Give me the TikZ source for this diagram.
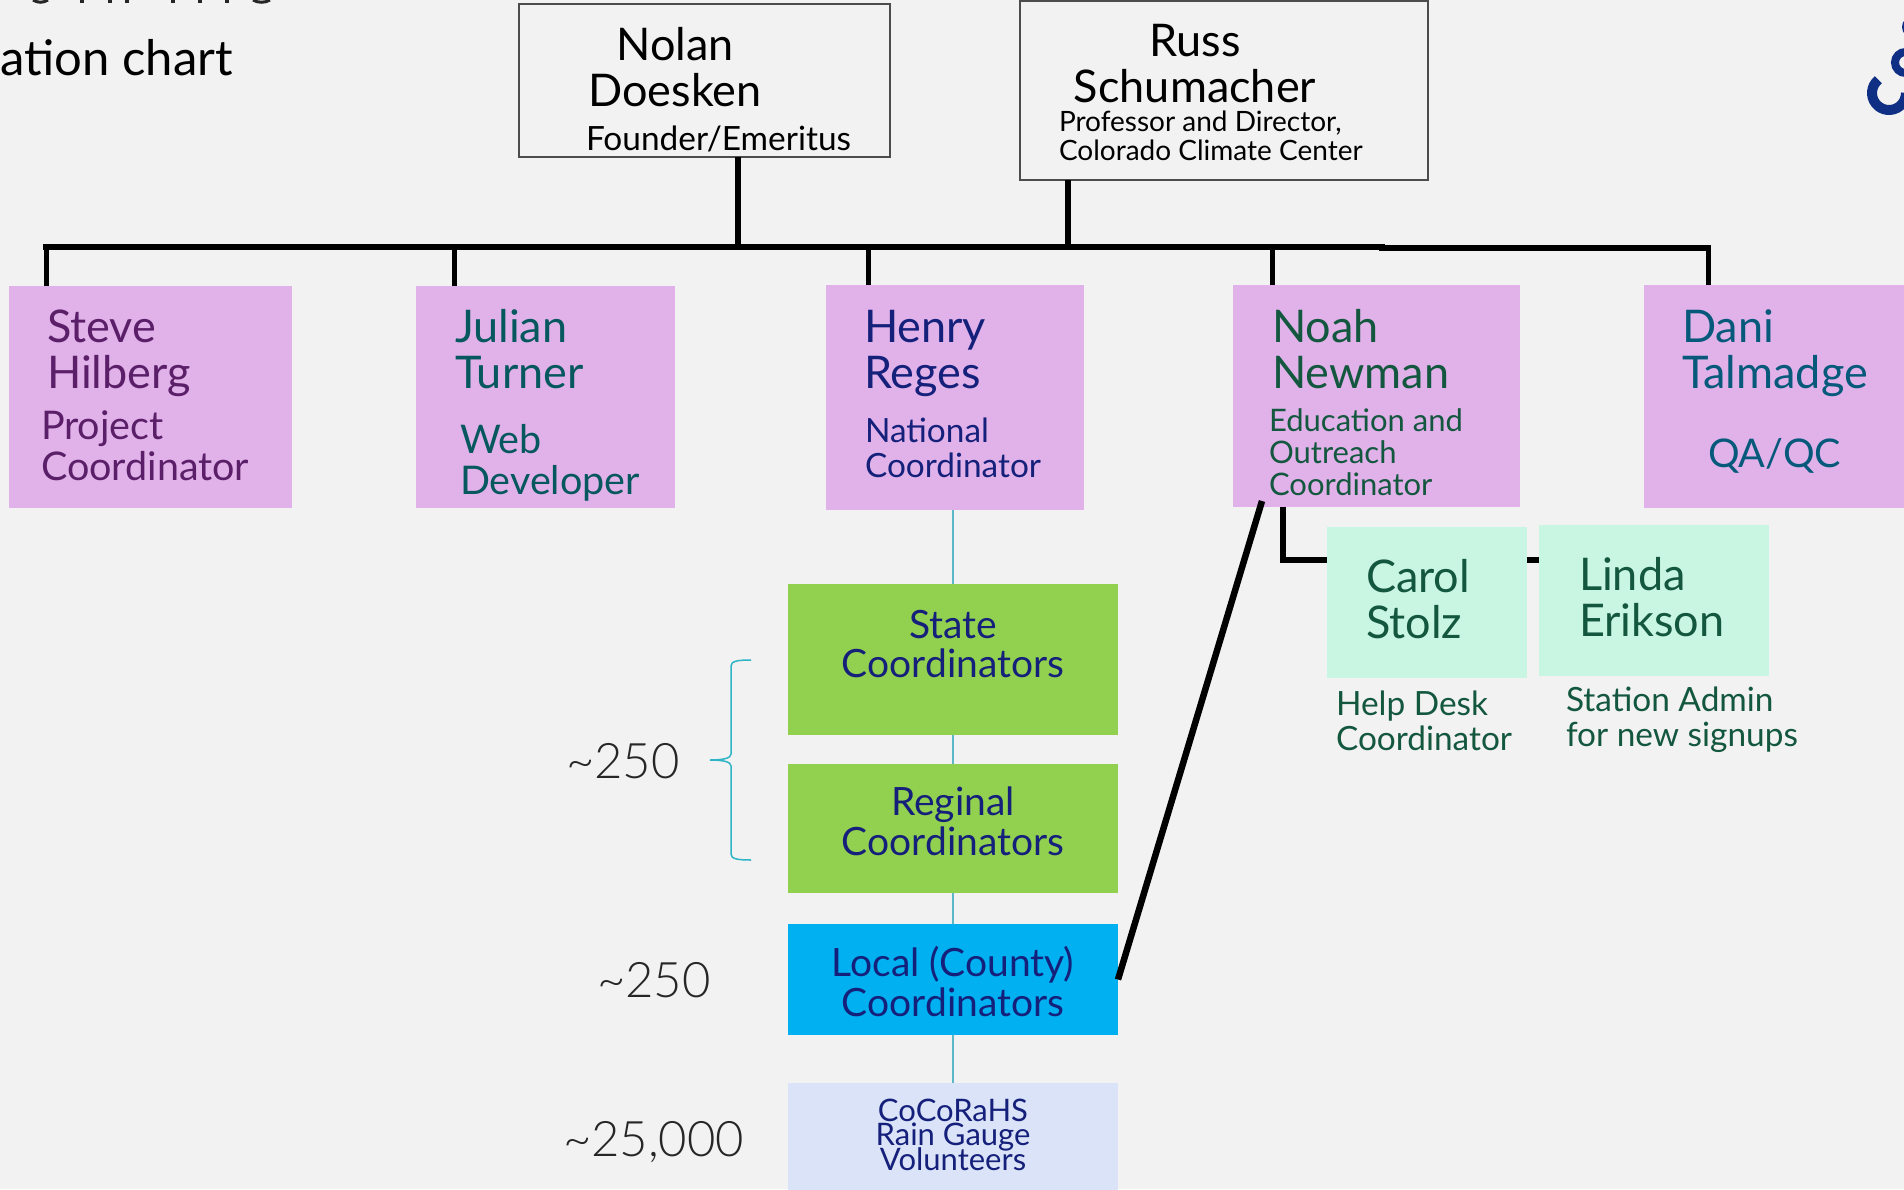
\documentclass[tikz,border=0pt]{standalone}
\usepackage{fontspec}
\setmainfont{Lato}
\newfontfamily\thinfont{Lato Light}
\usepackage{xcolor}
\usepackage{tikz}
\usetikzlibrary{positioning, calc}
\definecolor{ccPage}{HTML}{F2F2F2}
\definecolor{ccPink}{HTML}{E0B2E9}
\definecolor{ccGreen}{HTML}{92D14F}
\definecolor{ccSky}{HTML}{00B0F0}
\definecolor{ccLavender}{HTML}{DAE3F8}
\definecolor{ccMint}{HTML}{C9F5E3}
\definecolor{ccPurple}{HTML}{5A1F68}
\definecolor{ccTeal}{HTML}{07585E}
\definecolor{ccNavy}{HTML}{15207B}
\definecolor{ccForest}{HTML}{14573F}
\definecolor{ccOcean}{HTML}{06597A}
\definecolor{ccThin}{HTML}{5CB8C6}
\definecolor{ccBrace}{HTML}{2DB4C6}
\definecolor{ccLogo}{HTML}{0F2F85}
\newcommand{\tightlines}{\setlength{\lineskiplimit}{-20pt}}
\tikzset{
    box/.style={
        rectangle,
        inner sep=0pt,
        outer sep=0pt
    },
    headbox/.style={box, draw=black!70, line width=1.2pt},
    pinkbox/.style={box, fill=ccPink, minimum height=222pt},
    greenbox/.style={box, fill=ccGreen, minimum width=330pt},
    mintbox/.style={box, fill=ccMint, minimum height=151pt},
    txt/.style={inner sep=0pt, outer sep=0pt, anchor=base west, align=left},
    nametxt/.style={txt, font=\fontsize{45}{46}\selectfont},
    roletxt/.style={txt, font=\fontsize{39.5}{41}\selectfont},
    smalltxt/.style={txt, font=\fontsize{33.4}{34.5}\selectfont},
    midtxt/.style={txt, anchor=base, align=center, font=\fontsize{39}{39.5}\selectfont, text=ccNavy},
    counttxt/.style={txt, font=\thinfont\fontsize{49}{49}\selectfont, text=black!85},
    busline/.style={line width=6pt, color=black},
    dropline/.style={line width=5pt, color=black},
    thinline/.style={line width=1.5pt, color=ccThin},
    logoline/.style={line width=10pt, color=ccLogo}
}
\begin{document}
\begin{tikzpicture}[x=1pt, y=-1pt]
    \path[use as bounding box, clip] (0,0) rectangle (1904,1189);
    \fill[ccPage] (0,0) rectangle (1904,1189);

    % Clipped slide title
    \foreach \xx in {82,110,127,173,200,227} {
        \fill[black!85] (\xx-2,0) rectangle (\xx+2,3);
    }
    \draw[black!85, line width=3pt] (33,0) .. controls (38,3) and (43,3) .. (48,0);
    \draw[black!85, line width=3pt] (253,0) .. controls (258,3) and (265,3) .. (270,0);
    \node[txt, anchor=base east, font=\fontsize{49}{49}\selectfont, text=black] (subtitle) at (233,75) {ation chart};

    % Logo at the page edge
    \draw[logoline] (1889,93) ++(231:17) arc[start angle=231, end angle=0, radius=17];
    \draw[logoline, line width=8pt] (1905.5,62.5) circle[radius=10.5];
    \fill[ccLogo] (1913,27) circle[radius=11];

    % Heads
    \node[headbox, minimum width=371pt, minimum height=153pt] (nolan) at (704.5,80.5) {};
    \node[headbox, minimum width=408pt, minimum height=179pt] (russ) at (1224,90.5) {};
    \node[nametxt, anchor=base, align=center] (nolanName) at (675,106) {Nolan\\Doesken};
    \node[smalltxt] (nolanRole) at (586,150.5) {Founder/Emeritus};
    \node[nametxt, anchor=base, align=center] (russName) at (1195,102) {Russ\\Schumacher};
    \node[txt, font=\fontsize{28}{28.7}\selectfont] (russRole) at (1059,160) {Professor and Director,\\Colorado Climate Center};

    % Staff row
    \node[pinkbox, minimum width=283pt] (steve) at (150.5,397) {};
    \node[pinkbox, minimum width=259pt] (julian) at (545.5,397) {};
    \node[pinkbox, minimum width=258pt, minimum height=225pt] (henry) at (955,397.5) {};
    \node[pinkbox, minimum width=287pt] (noah) at (1376.5,396) {};
    \node[pinkbox, minimum width=266pt, minimum height=223pt] (dani) at (1777,396.5) {};

    \node[nametxt, text=ccPurple] (steveName) at (47,388) {Steve\\Hilberg};
    \node[roletxt, text=ccPurple] (steveRole) at (41,480) {Project\\Coordinator};
    \node[nametxt, text=ccTeal] (julianName) at (455,388) {Julian\\Turner};
    \node[roletxt, text=ccTeal] (julianRole) at (460,494) {Web\\Developer};
    \node[nametxt, text=ccNavy] (henryName) at (864,388) {Henry\\Reges};
    \node[smalltxt, text=ccNavy] (henryRole) at (865,477) {National\\Coordinator};
    \node[nametxt, text=ccForest] (noahName) at (1272,388) {Noah\\Newman};
    \node[txt, font=\fontsize{31}{31.7}\selectfont, text=ccForest] (noahRole) at (1269,495) {Education and\\Outreach\\Coordinator};
    \node[nametxt, text=ccOcean] (daniName) at (1682,388) {Dani\\Talmadge};
    \node[roletxt, text=ccOcean] (daniRole) at (1708,467) {QA/QC};

    % Helpers
    \node[mintbox, minimum width=200pt] (carol) at (1427,602.5) {};
    \node[mintbox, minimum width=230pt] (linda) at (1654,600.5) {};
    \node[nametxt, text=ccForest] (carolName) at (1366,638) {Carol\\Stolz};
    \node[nametxt, text=ccForest] (lindaName) at (1579,636) {Linda\\Erikson};
    \node[smalltxt, text=ccForest] (carolRole) at (1336,750) {Help Desk\\Coordinator};
    \node[smalltxt, text=ccForest] (lindaRole) at (1566,746) {Station Admin\\for new signups};

    % Volunteer chain
    \node[greenbox, minimum height=151pt] (state) at (953,659.5) {};
    \node[greenbox, minimum height=129pt] (regional) at (953,828.5) {};
    \node[box, fill=ccSky, minimum width=330pt, minimum height=111pt] (local) at (953,979.5) {};
    \node[box, fill=ccLavender, minimum width=330pt, minimum height=112pt] (gauge) at (953,1139) {};
    \node[midtxt] (stateTxt) at (953,677.5) {State\\Coordinators};
    \node[midtxt] (regionalTxt) at (953,855) {Reginal\\Coordinators};
    \node[midtxt] (localTxt) at (953,1016) {Local (County)\\Coordinators};
    \node[midtxt, font=\fontsize{31}{24.5}\selectfont\tightlines] (gaugeTxt) at (953,1170) {CoCoRaHS\\Rain Gauge\\Volunteers};

    % Counts
    \node[counttxt] (countA) at (566,778) {\textasciitilde250};
    \node[counttxt] (countB) at (597,997.5) {\textasciitilde250};
    \node[counttxt] (countC) at (563,1156) {\textasciitilde25,000};
    \draw[ccBrace, line width=1.5pt] (751,660) .. controls (738,660) and (731,661) .. (731,666) -- (731,754)
        .. controls (731,758) and (724,760) .. (710,760)
        .. controls (724,760) and (731,762) .. (731,766) -- (731,854)
        .. controls (731,859) and (738,860) .. (751,860);

    % Bus
    \coordinate (busSteve) at (46,247);
    \coordinate (busJulian) at (454,247);
    \coordinate (busHenry) at (868,247);
    \coordinate (busNoah) at (1272,247);
    \coordinate (busNolan) at (738,247);
    \coordinate (busRuss) at (1068,247);
    \coordinate (busJoint) at (1385,247);
    \coordinate (busJointB) at (1379,248);
    \coordinate (busDani) at (1708,248);
    \draw[busline] ($(busSteve)+(-3,0)$) -- (busJoint);
    \draw[busline] (busJointB) -- ($(busDani)+(3,0)$);
    \draw[busline] (busNolan |- nolan.south) -- (busNolan);
    \draw[busline] (busRuss |- russ.south) -- (busRuss);
    \foreach \bb/\nn in {busSteve/steve, busJulian/julian, busHenry/henry, busNoah/noah, busDani/dani} {
        \draw[dropline] (\bb) -- (\bb |- \nn.north);
    }

    % Noah to helpers and local coordinators
    \coordinate (noahElbow) at (1282.5,560);
    \coordinate (noahFoot) at (1262,501);
    \draw[busline] (noahElbow |- noah.south) -- (noahElbow) -- (noahElbow -| carol.west);
    \draw[busline] (carol.east |- noahElbow) -- (noahElbow -| linda.west);
    \draw[busline, line width=6.5pt] (noahFoot) -- (local.east);

    % Thin chain
    \draw[thinline] (state.north |- henry.south) -- (state.north);
    \draw[thinline] (state.south) -- (regional.north);
    \draw[thinline] (regional.south) -- (local.north);
    \draw[thinline] (local.south) -- (gauge.north);
\end{tikzpicture}
\end{document}
